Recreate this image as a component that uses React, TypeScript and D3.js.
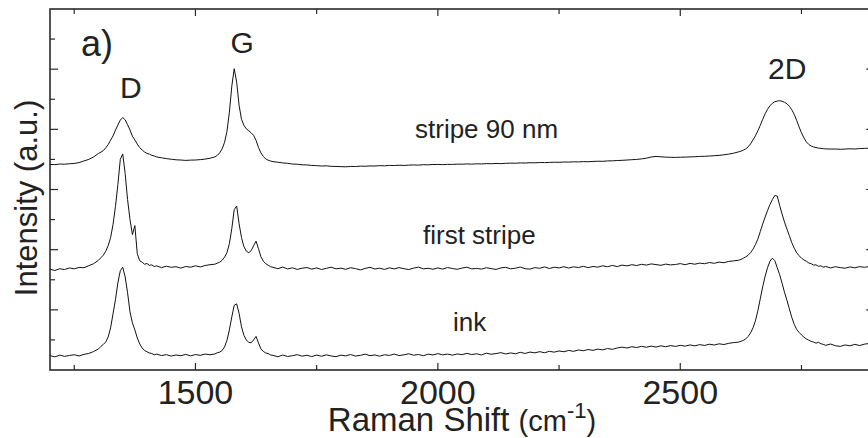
import React from 'react';
import * as d3 from 'd3';

// Raman shift sample positions (cm^-1)
const ramanShift: number[] = [
  1200, 1210, 1220, 1230, 1240, 1250, 1260, 1270, 1280, 1290,
  1300, 1305, 1310, 1315, 1320, 1325, 1330, 1335, 1340, 1345, 1350, 1355,
  1360, 1365, 1370, 1375, 1380, 1385, 1390, 1395, 1400, 1405, 1410, 1415,
  1420, 1430, 1440, 1450, 1460, 1470, 1480, 1490, 1500, 1510, 1520, 1530,
  1540, 1545, 1550, 1555, 1560, 1565, 1570, 1575, 1580, 1585, 1590, 1595,
  1600, 1605, 1610, 1615, 1620, 1625, 1630, 1635, 1640, 1645, 1650, 1655,
  1660, 1670, 1680, 1690, 1700, 1710, 1720, 1730, 1740, 1750,
  1760, 1770, 1780, 1790, 1800, 1810, 1820, 1830, 1840, 1850,
  1860, 1870, 1880, 1890, 1900, 1910, 1920, 1930, 1940, 1950,
  1960, 1970, 1980, 1990, 2000, 2010, 2020, 2030, 2040, 2050,
  2060, 2070, 2080, 2090, 2100, 2110, 2120, 2130, 2140, 2150,
  2160, 2170, 2180, 2190, 2200, 2210, 2220, 2230, 2240, 2250,
  2260, 2270, 2280, 2290, 2300, 2310, 2320, 2330, 2340, 2350,
  2360, 2370, 2380, 2390, 2400, 2410, 2420, 2430, 2440, 2450,
  2460, 2470, 2480, 2490, 2500, 2510, 2520, 2530, 2540, 2550,
  2560, 2570, 2580, 2590, 2600, 2610,
  2620, 2625, 2630, 2635, 2640, 2645, 2650, 2655, 2660, 2665, 2670, 2675,
  2680, 2685, 2690, 2695, 2700, 2705, 2710, 2715, 2720, 2725, 2730, 2735,
  2740, 2745, 2750, 2755, 2760, 2765, 2770, 2775, 2780, 2785, 2790, 2795,
  2800, 2810, 2820, 2830, 2840, 2850, 2860, 2870, 2880, 2890, 2900,
];

// Intensity (a.u., offset) — "stripe 90 nm"
const stripe90: number[] = [
  205.0, 204.8, 205.4, 205.2, 205.7, 206.0, 206.8, 208.5, 210.0, 212.5,
  216.0, 217.2, 218.8, 221.6, 224.8, 229.2, 233.4, 239.2, 244.3, 249.2, 251.8, 249.5,
  244.6, 239.4, 233.2, 229.4, 225.3, 221.8, 219.4, 217.4, 216.0, 215.2, 214.1, 213.4,
  212.5, 211.6, 210.8, 210.2, 209.6, 209.4, 209.0, 209.3, 209.4, 209.8, 210.3, 211.2,
  212.5, 214.0, 216.5, 220.5, 227.0, 238.0, 257.0, 283.0, 300.5, 287.0, 264.0, 250.0,
  244.0, 240.5, 238.5, 236.5, 234.0, 229.0, 222.0, 216.5, 213.0, 210.5, 209.2, 208.4,
  207.8, 207.2, 206.5, 206.1, 205.4, 205.2, 204.6, 204.5, 204.0, 203.8,
  203.4, 203.6, 203.1, 203.0, 202.8, 202.6, 203.0, 202.9, 203.3, 203.2,
  203.5, 203.4, 203.8, 203.6, 204.0, 203.9, 204.2, 204.0, 204.3, 204.5,
  204.3, 204.7, 204.6, 204.9, 205.0, 204.8, 205.1, 205.0, 205.3, 205.2,
  205.5, 205.3, 205.6, 205.5, 205.8, 205.7, 206.0, 205.8, 206.1, 206.3,
  206.2, 206.5, 206.4, 206.7, 206.6, 206.9, 206.8, 207.0, 207.2, 207.1,
  207.4, 207.3, 207.6, 207.5, 207.8, 207.7, 208.0, 208.2, 208.1, 208.5,
  208.6, 208.9, 209.1, 209.4, 209.7, 210.0, 210.5, 211.2, 212.4, 213.0,
  212.6, 212.3, 212.1, 212.0, 212.2, 212.3, 212.5, 212.7, 213.0, 213.1,
  213.4, 213.7, 214.0, 214.6, 215.3, 216.2,
  217.5, 218.2, 219.2, 220.5, 222.5, 225.5, 229.5, 233.5, 238.5, 244.0, 250.0, 255.5,
  260.0, 263.5, 266.0, 267.5, 268.2, 268.5, 268.0, 267.0, 265.5, 263.0, 259.5, 255.0,
  249.0, 242.5, 236.5, 231.5, 227.5, 225.0, 223.3, 222.4, 221.8, 221.3, 221.0, 220.7,
  220.5, 220.3, 220.4, 220.1, 220.3, 220.6, 220.4, 220.8, 221.0, 221.2, 221.4,
];

// Intensity (a.u., offset) — "first stripe"
const firstStripe: number[] = [
  100.5, 99.2, 101.0, 100.2, 101.8, 100.9, 102.3, 102.0, 104.0, 106.0,
  109.5, 112.0, 114.5, 118.5, 124.0, 132.0, 145.0, 163.0, 185.0, 210.0, 215.5, 196.0,
  170.0, 150.0, 135.0, 144.0, 116.0, 109.0, 107.5, 105.5, 106.2, 104.4, 104.8, 103.2,
  103.8, 102.1, 103.5, 102.4, 103.0, 101.6, 103.2, 102.5, 103.9, 102.8, 104.2, 105.0,
  105.5, 106.5, 107.5, 109.5, 112.5, 117.0, 126.0, 141.0, 160.0, 163.5, 146.0, 132.0,
  123.0, 118.5, 117.0, 119.0, 124.0, 128.5, 121.0, 113.0, 108.5, 106.0, 104.5, 103.0,
  102.4, 101.0, 102.6, 100.8, 101.9, 100.3, 101.5, 102.2, 100.6, 101.8,
  100.2, 101.4, 102.5, 100.9, 101.6, 100.4, 102.0, 101.1, 99.8, 101.3,
  102.4, 100.7, 101.5, 100.3, 101.9, 100.8, 102.1, 101.0, 100.2, 101.6,
  102.6, 100.9, 101.4, 100.5, 101.8, 100.6, 102.2, 101.2, 100.4, 101.7,
  102.5, 100.8, 101.3, 100.6, 102.0, 101.1, 100.3, 101.8, 102.4, 100.9,
  101.5, 102.7, 101.0, 100.6, 102.1, 101.4, 102.8, 101.2, 102.5, 101.8,
  103.0, 101.7, 102.9, 102.2, 103.4, 102.1, 103.2, 102.6, 103.9, 103.0,
  104.3, 103.1, 104.6, 103.8, 105.0, 104.2, 105.4, 104.6, 105.8, 105.1,
  104.4, 105.6, 104.8, 105.2, 106.1, 105.0, 106.3, 105.5, 106.6, 106.0,
  107.2, 106.4, 107.6, 107.0, 108.3, 108.8,
  109.5, 110.2, 111.5, 112.8, 114.5, 117.0, 120.5, 125.0, 130.5, 138.0, 145.5, 152.5,
  159.0, 165.0, 170.0, 174.0, 173.5, 164.0, 155.5, 147.5, 140.5, 134.0, 127.0, 121.5,
  117.0, 114.0, 111.5, 109.8, 108.5, 106.8, 106.0, 104.6, 104.9, 103.4, 103.9, 102.5,
  103.2, 101.8, 103.0, 102.1, 101.5, 102.8, 101.9, 103.1, 102.4, 103.3, 102.0,
];

// Intensity (a.u., offset) — "ink"
const ink: number[] = [
  14.3, 13.1, 14.8, 13.6, 14.5, 15.2, 14.0, 15.6, 16.5, 18.4,
  21.0, 23.5, 25.5, 28.0, 33.0, 42.0, 56.0, 70.0, 87.0, 99.0, 102.5, 93.0,
  77.0, 58.0, 47.0, 40.0, 32.0, 26.0, 22.0, 19.5, 18.2, 17.0, 16.4, 15.2,
  15.8, 14.4, 15.3, 13.9, 15.0, 14.2, 15.6, 14.1, 15.4, 14.6, 15.9, 15.2,
  16.0, 17.2, 17.8, 19.5, 23.0, 29.5, 40.0, 53.0, 64.5, 66.0, 56.5, 43.0,
  34.5, 30.0, 27.5, 27.2, 30.0, 33.5, 27.0, 21.0, 18.5, 17.0, 16.4, 15.0,
  14.6, 13.2, 14.9, 13.5, 14.2, 15.3, 13.8, 14.7, 13.4, 14.9,
  13.7, 15.1, 14.0, 13.3, 14.8, 14.1, 15.4, 13.9, 14.6, 15.8,
  14.3, 15.0, 13.8, 15.2, 14.5, 15.9, 14.4, 15.1, 16.2, 14.7,
  15.5, 14.2, 15.8, 15.0, 16.3, 15.1, 15.9, 14.8, 16.0, 15.3,
  16.6, 15.4, 16.2, 15.0, 16.8, 15.7, 16.4, 17.3, 16.0, 17.0,
  16.2, 17.6, 16.5, 17.9, 17.1, 18.3, 17.2, 18.6, 17.8, 19.0,
  18.2, 19.5, 18.6, 20.0, 19.2, 20.4, 19.6, 20.8, 20.1, 21.4,
  20.6, 22.0, 22.8, 21.9, 23.2, 22.4, 23.6, 22.7, 23.8, 22.9,
  24.1, 23.2, 24.4, 23.5, 24.6, 23.8, 25.0, 24.1, 25.3, 24.5,
  25.7, 24.9, 26.1, 25.4, 26.6, 27.3,
  27.8, 28.6, 29.5, 31.0, 33.5, 37.0, 42.0, 49.0, 59.0, 71.0, 83.0, 93.5,
  102.0, 108.5, 111.5, 109.0, 102.0, 95.0, 86.5, 77.5, 69.5, 61.0, 52.5, 45.5,
  40.5, 37.5, 35.0, 32.8, 31.0, 29.8, 28.5, 27.9, 26.8, 27.6, 26.2, 25.5,
  24.6, 25.9, 24.2, 23.5, 25.0, 24.1, 25.6, 24.4, 25.8, 26.5, 25.2,
];

const seriesList = [stripe90, firstStripe, ink];

const xTicks = [1250, 1500, 1750, 2000, 2250, 2500, 2750];
const xMajor = [1500, 2000, 2500];
const yTicks = [30, 60, 90, 120, 150, 180, 210, 240, 270, 300, 330];
const yMajor = [60, 120, 180, 240, 300];

const FONT = '"Liberation Sans", Arial, Helvetica, sans-serif';

export default function App() {
  const W = 868;
  const H = 438;
  const x = d3.scaleLinear().domain([1200, 2900]).range([50, 874.2]);
  const y = d3.scaleLinear().domain([0, 360]).range([370, 9]);
  const left = x(1200);
  const right = x(2900);
  const top = y(360);
  const bottom = y(0);

  const lineGen = d3
    .line<number>()
    .x((_, i) => x(ramanShift[i]))
    .y((d) => y(d));

  const axisColor = '#2a2a2a';
  const textColor = '#222';

  return (
    <svg
      width={W}
      height={H}
      style={{ position: 'absolute', left: 0, top: 0, background: '#fff' }}
      fontFamily={FONT}
    >
      <defs>
        <clipPath id="plot">
          <rect x={left} y={top} width={right - left} height={bottom - top} />
        </clipPath>
      </defs>

      {/* spectra */}
      <g clipPath="url(#plot)">
        {seriesList.map((s, k) => (
          <path
            key={k}
            d={lineGen(s.slice(0, ramanShift.length)) || ''}
            fill="none"
            stroke="#111"
            strokeWidth={1}
            strokeLinejoin="round"
          />
        ))}
      </g>

      {/* frame */}
      <rect
        x={left}
        y={top}
        width={right - left}
        height={bottom - top}
        fill="none"
        stroke={axisColor}
        strokeWidth={1.6}
      />

      {/* x ticks (bottom & top, inward) */}
      {xTicks.map((t) => {
        const len = xMajor.includes(t) ? 7 : 5;
        return (
          <g key={'xt' + t} stroke={axisColor} strokeWidth={1.2}>
            <line x1={x(t)} x2={x(t)} y1={bottom} y2={bottom - len} />
            <line x1={x(t)} x2={x(t)} y1={top} y2={top + len} />
          </g>
        );
      })}
      {/* y ticks (left & right, inward) */}
      {yTicks.map((t) => {
        const len = yMajor.includes(t) ? 8 : 5;
        return (
          <g key={'yt' + t} stroke={axisColor} strokeWidth={1.2}>
            <line x1={left} x2={left + len} y1={y(t)} y2={y(t)} />
            <line x1={right} x2={right - len} y1={y(t)} y2={y(t)} />
          </g>
        );
      })}

      {/* x tick labels */}
      {xMajor.map((t) => (
        <text
          key={'xl' + t}
          x={x(t)}
          y={404}
          textAnchor="middle"
          fontSize={34}
          fill={textColor}
        >
          {t}
        </text>
      ))}

      {/* x axis title */}
      <text x={462} y={431} textAnchor="middle" fill={textColor} fontSize={33}>
        <tspan>Raman Shift </tspan>
        <tspan fontSize={29}>(cm</tspan>
        <tspan fontSize={22} dy={-13}>-1</tspan>
        <tspan fontSize={29} dy={13}>)</tspan>
      </text>

      {/* y axis title */}
      <text
        transform={`translate(37, 198) rotate(-90)`}
        textAnchor="middle"
        fontSize={31}
        fill={textColor}
      >
        Intensity (a.u.)
      </text>

      {/* panel + peak labels */}
      <text x={81} y={56} fontSize={36} fill={textColor}>a)</text>
      <text x={x(1350) + 8} y={98} textAnchor="middle" fontSize={30} fill={textColor}>D</text>
      <text x={x(1580) + 8} y={53} textAnchor="middle" fontSize={30} fill={textColor}>G</text>
      <text x={x(2700) + 10} y={79} textAnchor="middle" fontSize={30} fill={textColor}>2D</text>

      {/* series labels */}
      <text x={415} y={138} fontSize={26} fill={textColor}>stripe 90 nm</text>
      <text x={423} y={244} fontSize={26} fill={textColor}>first stripe</text>
      <text x={453} y={331} fontSize={26} fill={textColor}>ink</text>
    </svg>
  );
}
